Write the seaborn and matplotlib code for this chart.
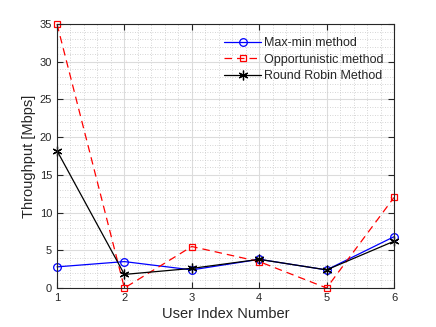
import matplotlib
matplotlib.use('Agg')
import matplotlib.pyplot as plt
import seaborn as sns
import pandas as pd
from matplotlib.ticker import MultipleLocator

users = [1, 2, 3, 4, 5, 6]
maxmin = [2.8, 3.5, 2.4, 3.8, 2.4, 6.8]
opportunistic = [35.0, 0.0, 5.5, 3.5, 0.0, 12.0]
round_robin = [18.2, 1.8, 2.6, 3.8, 2.4, 6.2]

labels = ['Max-min method', 'Opportunistic method', 'Round Robin Method']

df = pd.DataFrame({
    'user': users * 3,
    'throughput': maxmin + opportunistic + round_robin,
    'method': [labels[0]] * 6 + [labels[1]] * 6 + [labels[2]] * 6,
})

sns.set_style('ticks')
plt.rcParams['font.family'] = ['Liberation Sans', 'DejaVu Sans']

fig = plt.figure(figsize=(4.36, 3.27), dpi=100)
ax = fig.add_axes([57 / 436, 1 - 288 / 327, 337 / 436, 264 / 327])

styles = {
    labels[0]: dict(color='#0000ff', marker='o', ls='-', ms=5.5),
    labels[1]: dict(color='#ff0000', marker='s', ls=(0, (6, 4)), ms=5),
    labels[2]: dict(color='#000000', marker=(6, 2, 0), ls='-', ms=7),
}

for m in labels:
    st = styles[m]
    sns.lineplot(data=df[df['method'] == m], x='user', y='throughput', ax=ax,
                 color=st['color'], marker=st['marker'], linestyle=st['ls'],
                 markersize=st['ms'], markerfacecolor='none',
                 markeredgecolor=st['color'], markeredgewidth=0.9,
                 linewidth=0.9, label=m, clip_on=False)

ax.set_xlim(1, 6)
ax.set_ylim(0, 35)
ax.xaxis.set_major_locator(MultipleLocator(1))
ax.yaxis.set_major_locator(MultipleLocator(5))
ax.xaxis.set_minor_locator(MultipleLocator(0.2))
ax.yaxis.set_minor_locator(MultipleLocator(1))
ax.grid(which='major', color='#dcdcdc', linewidth=0.8, linestyle='-')
ax.grid(which='minor', color='#c8c8c8', linewidth=0.6, linestyle=(0, (1, 2)))
ax.set_axisbelow(True)

for s in ax.spines.values():
    s.set_visible(True)
    s.set_color('#262626')
    s.set_linewidth(0.8)
ax.tick_params(which='both', direction='in', top=True, right=True, colors='#262626',
               labelsize=8, labelcolor='#262626')
ax.tick_params(which='major', length=4)
ax.tick_params(which='minor', length=0)

ax.set_xlabel('User Index Number', fontsize=10.5, color='#262626', labelpad=3)
ax.set_ylabel('Throughput [Mbps]', fontsize=10.5, color='#262626', labelpad=3)

leg = ax.legend(loc='upper left', bbox_to_anchor=(0.48, 0.97), frameon=False,
                fontsize=9, numpoints=1, handlelength=3.0, handletextpad=0.25,
                labelspacing=0.38, borderaxespad=0.0)

fig.savefig('out.png', dpi=100)
